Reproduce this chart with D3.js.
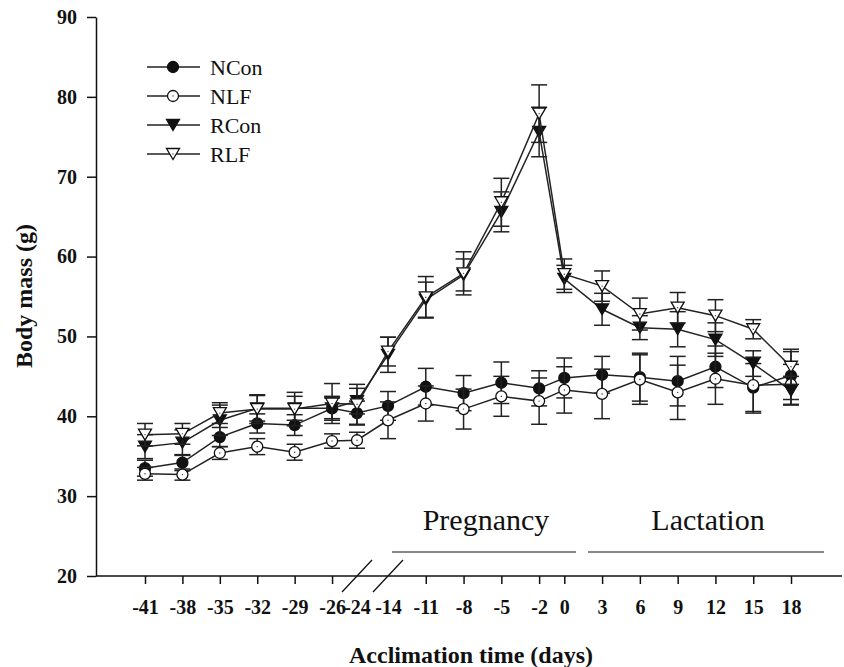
<!DOCTYPE html>
<html lang="en">
<head>
<meta charset="utf-8">
<title>Body mass</title>
<script src="https://d3js.org/d3.v7.min.js"></script>
<style>
  body { margin: 0; background: #fff; }
  #chart text { font-family: "Liberation Serif", "Times New Roman", serif; fill: #111; }
  .tick text { font-size: 20px; font-weight: bold; }
</style>
</head>
<body>
<div id="chart"></div>
<script>
"use strict"

// days of measurement
var days = [-41, -38, -35, -32, -29, -26, -24, -14, -11, -8, -5, -2, 0, 3, 6, 9, 12, 15, 18];
var yTicks = [20, 30, 40, 50, 60, 70, 80, 90];

var groups = ["NCon", "NLF", "RCon", "RLF"];

var nconMean = [33.5, 34.2, 37.4, 39.1, 38.9, 41.0, 40.4, 41.3, 43.7, 42.9, 44.2, 43.5, 44.8, 45.2, 44.9, 44.4, 46.2, 43.6, 45.1];
var nconErr  = [1.0, 1.0, 1.2, 1.2, 1.3, 1.3, 1.5, 1.8, 2.3, 2.2, 2.6, 2.2, 2.5, 2.3, 3.0, 3.1, 2.6, 3.0, 3.0];
var nlfMean  = [32.8, 32.7, 35.4, 36.2, 35.5, 36.9, 37.0, 39.5, 41.6, 40.9, 42.5, 41.9, 43.3, 42.8, 44.6, 43.0, 44.7, 43.9, 44.0];
var nlfErr   = [0.8, 0.7, 0.8, 1.0, 1.0, 0.9, 1.0, 2.3, 2.2, 2.5, 2.5, 2.9, 2.9, 3.1, 3.1, 3.4, 3.2, 3.5, 2.5];
var rconMean = [36.2, 36.7, 39.5, 41.0, 41.0, 41.0, 41.9, 47.7, 54.6, 57.7, 65.6, 75.6, 57.2, 53.4, 51.1, 50.9, 49.6, 46.6, 43.2];
var rconErr  = [1.5, 1.6, 1.9, 1.6, 1.5, 1.5, 1.6, 2.2, 2.2, 2.0, 2.5, 3.1, 1.7, 2.0, 1.5, 2.2, 2.1, 1.6, 1.8];
var rlfMean  = [37.7, 37.8, 40.4, 40.9, 40.9, 41.6, 41.5, 48.1, 54.9, 57.9, 66.8, 77.9, 57.8, 56.3, 52.8, 53.6, 52.6, 50.9, 46.2];
var rlfErr   = [1.4, 1.3, 1.3, 1.8, 2.1, 2.5, 2.5, 1.8, 2.6, 2.7, 3.0, 3.6, 1.9, 1.9, 2.0, 1.9, 2.0, 1.2, 2.2];

var larguraSVG = 844, alturaSVG = 667;

var svg = d3.select('#chart').append('svg')
  .attr('width', larguraSVG)
  .attr('height', alturaSVG);

// x axis is broken between -24 and -14
var x = d3.scaleLinear()
  .domain([-41, -24, -14, 18])
  .range([145, 357, 388, 791]);

var y = d3.scaleLinear()
  .domain([20, 90])
  .range([576, 17]);

var eixoX0 = 96, eixoX1 = 842;

var series = [
  {nome: "NCon", media: nconMean, erro: nconErr, simbolo: "circle", cheio: true},
  {nome: "NLF",  media: nlfMean,  erro: nlfErr,  simbolo: "circle", cheio: false},
  {nome: "RCon", media: rconMean, erro: rconErr, simbolo: "tri",    cheio: true},
  {nome: "RLF",  media: rlfMean,  erro: rlfErr,  simbolo: "tri",    cheio: false}
];

function desenhaSimbolo(g, s, cx, cy) {
  var fill = s.cheio ? "#111" : "#fff";
  if (s.simbolo === "circle") {
    g.append("circle").attr("cx", cx).attr("cy", cy).attr("r", 5.5)
      .attr("fill", fill).attr("stroke", "#111").attr("stroke-width", 1.3);
  } else {
    var w = 6.5, h = 11;
    g.append("path")
      .attr("d", "M" + (cx - w) + "," + (cy - h / 2) + "L" + (cx + w) + "," + (cy - h / 2) + "L" + cx + "," + (cy + h / 2) + "Z")
      .attr("fill", fill).attr("stroke", "#111").attr("stroke-width", 1.3);
  }
  if (!s.cheio) {
    g.append("circle").attr("cx", cx).attr("cy", cy).attr("r", 0.7).attr("fill", "#333");
  }
}

// error bars, lines and markers
var linha = d3.line()
  .x(function(d) { return x(d.dia); })
  .y(function(d) { return y(d.v); });

series.forEach(function(s) {
  var pts = days.map(function(d, i) { return {dia: d, v: s.media[i], e: s.erro[i]}; });
  var g = svg.append("g").attr("class", "serie-" + s.nome);

  pts.forEach(function(p) {
    var cx = x(p.dia);
    g.append("line").attr("x1", cx).attr("x2", cx)
      .attr("y1", y(p.v - p.e)).attr("y2", y(p.v + p.e))
      .attr("stroke", "#222").attr("stroke-width", 1.5);
    [p.v - p.e, p.v + p.e].forEach(function(v) {
      g.append("line").attr("x1", cx - 8).attr("x2", cx + 8)
        .attr("y1", y(v)).attr("y2", y(v))
        .attr("stroke", "#222").attr("stroke-width", 1.5);
    });
  });

  g.append("path").datum(pts)
    .attr("d", linha)
    .attr("fill", "none")
    .attr("stroke", "#222")
    .attr("stroke-width", 1.5);

  pts.forEach(function(p) { desenhaSimbolo(g, s, x(p.dia), y(p.v)); });
});

// y axis
svg.append("g")
  .attr("transform", "translate(" + eixoX0 + ",0)")
  .call(d3.axisLeft(y).tickValues(yTicks).tickSize(9).tickPadding(10).tickSizeOuter(0))
  .call(function(g) {
    g.selectAll("line, path").attr("stroke", "#111").attr("stroke-width", 1.5);
  });

// x axis (no ticks at the break), plain hyphen for negatives
var gx = svg.append("g")
  .attr("transform", "translate(0," + y(20) + ")")
  .call(d3.axisBottom(x).tickValues(days).tickFormat(function(d) { return String(d); }).tickSize(8).tickPadding(16));
gx.select(".domain").remove();
gx.selectAll(".tick line").attr("stroke", "#111").attr("stroke-width", 1.5);
gx.selectAll(".tick").filter(function(d) { return d === -24 || d === -14; }).select("line").remove();
gx.append("line").attr("x1", eixoX0).attr("x2", eixoX1).attr("y1", 0).attr("y2", 0)
  .attr("stroke", "#111").attr("stroke-width", 1.5);

// break marks
[-24, -14].forEach(function(d) {
  svg.append("line")
    .attr("x1", x(d) - 15).attr("y1", y(20) + 16)
    .attr("x2", x(d) + 15).attr("y2", y(20) - 16)
    .attr("stroke", "#111").attr("stroke-width", 1.3);
});

// axis titles
svg.append("text")
  .attr("x", 471).attr("y", 663)
  .attr("text-anchor", "middle")
  .style("font-size", "24px").style("font-weight", "bold")
  .text("Acclimation time (days)");

svg.append("text")
  .attr("transform", "translate(32,296) rotate(-90)")
  .attr("text-anchor", "middle")
  .style("font-size", "24px").style("font-weight", "bold")
  .text("Body mass (g)");

// phases
var fases = [
  {nome: "Pregnancy", x1: 392, x2: 576},
  {nome: "Lactation", x1: 588, x2: 824}
];
fases.forEach(function(f) {
  svg.append("line").attr("x1", f.x1).attr("x2", f.x2)
    .attr("y1", 552).attr("y2", 552)
    .attr("stroke", "#111").attr("stroke-width", 1.2);
  svg.append("text")
    .attr("x", (f.x1 + f.x2) / 2 + 2).attr("y", 530)
    .attr("text-anchor", "middle")
    .style("font-size", "30px")
    .text(f.nome);
});

// legend
var leg = svg.append("g").attr("class", "legenda");
series.forEach(function(s, i) {
  var ly = 67 + i * 29;
  leg.append("line").attr("x1", 147).attr("x2", 200).attr("y1", ly).attr("y2", ly)
    .attr("stroke", "#222").attr("stroke-width", 1.5);
  desenhaSimbolo(leg, s, 173, ly);
  leg.append("text").attr("x", 210).attr("y", ly + 7.5)
    .style("font-size", "22px")
    .text(s.nome);
});
</script>
</body>
</html>
